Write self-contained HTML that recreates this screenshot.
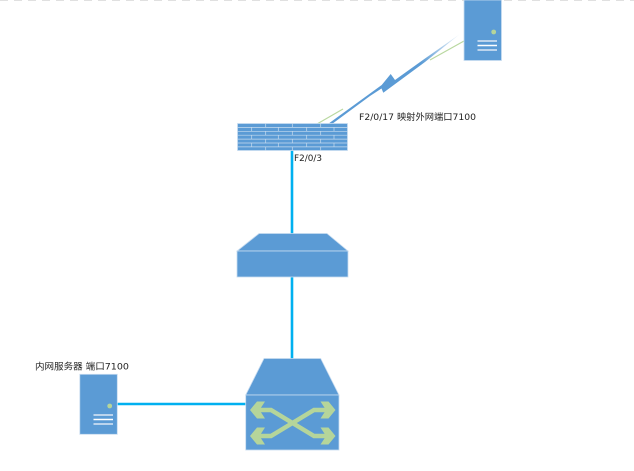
<!DOCTYPE html>
<html>
<head>
<meta charset="utf-8">
<style>
html,body{margin:0;padding:0;background:#fff;width:634px;height:471px;overflow:hidden}
svg{display:block}
text{font-family:"DejaVu Sans","WenQuanYi Zen Hei","Noto Sans CJK SC",sans-serif;font-size:9px;fill:#222}
</style>
</head>
<body>
<svg width="634" height="471" viewBox="0 0 634 471" xmlns="http://www.w3.org/2000/svg">
<defs>
<linearGradient id="fade" gradientUnits="userSpaceOnUse" x1="420" y1="62" x2="460" y2="34">
<stop offset="0" stop-color="#5b9bd5"/>
<stop offset="1" stop-color="#5b9bd5" stop-opacity="0.08"/>
</linearGradient>
</defs>
<line x1="0" y1="0.5" x2="634" y2="0.5" stroke="#e0e0e0" stroke-width="1" stroke-dasharray="8 6"/>

<!-- connectors -->
<g stroke="#00b0f0" stroke-width="2.6" fill="none">
<line x1="292" y1="150" x2="292" y2="234"/>
<line x1="292" y1="277" x2="292" y2="359"/>
<line x1="117" y1="404" x2="246" y2="404"/>
</g>

<!-- wan link -->
<g stroke="#b9d8a0" stroke-width="1.2" fill="none">
<line x1="317" y1="124" x2="343" y2="109"/>
<line x1="430" y1="60" x2="464" y2="41"/>
</g>
<polygon points="328,124 381.7,85 390.7,74 395,80 425,58.5 460,34 425,62 383.3,92.7 381.5,88.5 370,96 332,124" fill="url(#fade)"/>

<!-- top server -->
<rect x="464" y="0" width="37.5" height="60.5" fill="#5b9bd5" stroke="#c8dcf0" stroke-width="0.8"/>
<circle cx="493.7" cy="32" r="2.4" fill="#b5d59a"/>
<g stroke="#dbe8f5" stroke-width="1.6">
<line x1="477.5" y1="41" x2="497" y2="41"/>
<line x1="477.5" y1="45.5" x2="497" y2="45.5" stroke="#fff"/>
<line x1="477.5" y1="50" x2="497" y2="50"/>
</g>

<!-- firewall -->
<rect x="237.5" y="123.5" width="110" height="27" fill="#5b9bd5" stroke="#c8dcf0" stroke-width="0.8"/>
<g stroke="#c8dcf0" stroke-width="0.7" fill="none">
<path d="M237.5 127.4H347.5M237.5 131.3H347.5M237.5 135.2H347.5M237.5 139.1H347.5M237.5 143H347.5M237.5 146.9H347.5"/>
<path d="M265.7 123.5V127.4M292.3 123.5V127.4M320.7 123.5V127.4"/>
<path d="M251.7 127.4V131.3M278.3 127.4V131.3M306.7 127.4V131.3M334 127.4V131.3"/>
<path d="M265.7 131.3V135.2M292.3 131.3V135.2M320.7 131.3V135.2"/>
<path d="M251.7 135.2V139.1M278.3 135.2V139.1M306.7 135.2V139.1M334 135.2V139.1"/>
<path d="M265.7 139.1V143M292.3 139.1V143M320.7 139.1V143"/>
<path d="M251.7 143V146.9M278.3 143V146.9M306.7 143V146.9M334 143V146.9"/>
<path d="M265.7 146.9V150.5M292.3 146.9V150.5M320.7 146.9V150.5"/>
</g>

<!-- router -->
<polygon points="259,233.5 327,233.5 348,251 237,251" fill="#5b9bd5" stroke="#c8dcf0" stroke-width="0.8"/>
<rect x="237" y="251" width="111" height="26" fill="#5b9bd5" stroke="#c8dcf0" stroke-width="0.8"/>

<!-- switch -->
<polygon points="264,358.5 320.7,358.5 339,395 245.7,395" fill="#5b9bd5" stroke="#c8dcf0" stroke-width="0.8"/>
<rect x="245.7" y="395" width="93.3" height="55" fill="#5b9bd5" stroke="#c8dcf0" stroke-width="0.8"/>
<g fill="none" stroke="#b5d59a" stroke-width="4.4">
<path d="M256 410H271L314 436H329"/>
<path d="M256 436H271L314 410H329"/>
</g>
<g fill="#b5d59a">
<polygon points="250,410 257,401.5 265,401.5 259.5,410 265,418.5 257,418.5"/>
<polygon points="250,436 257,427.5 265,427.5 259.5,436 265,444.5 257,444.5"/>
<polygon points="335.5,410 328.5,401.5 320.5,401.5 326,410 320.5,418.5 328.5,418.5"/>
<polygon points="335.5,436 328.5,427.5 320.5,427.5 326,436 320.5,444.5 328.5,444.5"/>
</g>

<!-- bottom server -->
<rect x="79.8" y="374.3" width="37.5" height="60" fill="#5b9bd5" stroke="#c8dcf0" stroke-width="0.8"/>
<circle cx="109.7" cy="406" r="2.4" fill="#b5d59a"/>
<g stroke="#dbe8f5" stroke-width="1.6">
<line x1="93.5" y1="415" x2="113" y2="415"/>
<line x1="93.5" y1="419.5" x2="113" y2="419.5" stroke="#fff"/>
<line x1="93.5" y1="424" x2="113" y2="424"/>
</g>

<!-- labels -->
<text x="359" y="120" textLength="117" lengthAdjust="spacingAndGlyphs">F2/0/17 映射外网端口7100</text>
<text x="294" y="161" textLength="28" lengthAdjust="spacingAndGlyphs">F2/0/3</text>
<text x="35" y="369.5" textLength="94" lengthAdjust="spacingAndGlyphs">内网服务器 端口7100</text>
</svg>
</body>
</html>
